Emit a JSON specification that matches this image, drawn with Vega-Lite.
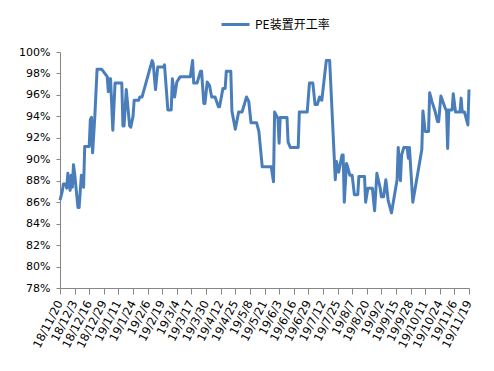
{
  "$schema": "https://vega.github.io/schema/vega-lite/v6.json",
  "width": 409,
  "height": 236,
  "autosize": {"type": "none"},
  "padding": {"left": 60, "top": 52, "right": 25, "bottom": 83},
  "background": "white",
  "config": {
    "view": {"stroke": null},
    "font": "DejaVu Sans",
    "axis": {"grid": false, "domainColor": "#868686", "tickColor": "#868686", "labelColor": "#000000", "labelFont": "DejaVu Sans", "labelFontSize": 11, "title": null}
  },
  "data": {
    "values": [
      {"date": "2018-11-20", "rate": 0.862, "series": "PE装置开工率"},
      {"date": "2018-11-22", "rate": 0.870, "series": "PE装置开工率"},
      {"date": "2018-11-23", "rate": 0.877, "series": "PE装置开工率"},
      {"date": "2018-11-25", "rate": 0.877, "series": "PE装置开工率"},
      {"date": "2018-11-26", "rate": 0.873, "series": "PE装置开工率"},
      {"date": "2018-11-27", "rate": 0.887, "series": "PE装置开工率"},
      {"date": "2018-11-29", "rate": 0.871, "series": "PE装置开工率"},
      {"date": "2018-11-30", "rate": 0.885, "series": "PE装置开工率"},
      {"date": "2018-12-01", "rate": 0.874, "series": "PE装置开工率"},
      {"date": "2018-12-02", "rate": 0.895, "series": "PE装置开工率"},
      {"date": "2018-12-03", "rate": 0.887, "series": "PE装置开工率"},
      {"date": "2018-12-06", "rate": 0.855, "series": "PE装置开工率"},
      {"date": "2018-12-07", "rate": 0.855, "series": "PE装置开工率"},
      {"date": "2018-12-09", "rate": 0.885, "series": "PE装置开工率"},
      {"date": "2018-12-11", "rate": 0.874, "series": "PE装置开工率"},
      {"date": "2018-12-12", "rate": 0.912, "series": "PE装置开工率"},
      {"date": "2018-12-16", "rate": 0.912, "series": "PE装置开工率"},
      {"date": "2018-12-17", "rate": 0.937, "series": "PE装置开工率"},
      {"date": "2018-12-18", "rate": 0.939, "series": "PE装置开工率"},
      {"date": "2018-12-19", "rate": 0.906, "series": "PE装置开工率"},
      {"date": "2018-12-21", "rate": 0.940, "series": "PE装置开工率"},
      {"date": "2018-12-23", "rate": 0.984, "series": "PE装置开工率"},
      {"date": "2018-12-27", "rate": 0.984, "series": "PE装置开工率"},
      {"date": "2019-01-01", "rate": 0.977, "series": "PE装置开工率"},
      {"date": "2019-01-02", "rate": 0.963, "series": "PE装置开工率"},
      {"date": "2019-01-03", "rate": 0.975, "series": "PE装置开工率"},
      {"date": "2019-01-04", "rate": 0.975, "series": "PE装置开工率"},
      {"date": "2019-01-06", "rate": 0.927, "series": "PE装置开工率"},
      {"date": "2019-01-08", "rate": 0.971, "series": "PE装置开工率"},
      {"date": "2019-01-14", "rate": 0.971, "series": "PE装置开工率"},
      {"date": "2019-01-15", "rate": 0.931, "series": "PE装置开工率"},
      {"date": "2019-01-16", "rate": 0.931, "series": "PE装置开工率"},
      {"date": "2019-01-18", "rate": 0.965, "series": "PE装置开工率"},
      {"date": "2019-01-21", "rate": 0.931, "series": "PE装置开工率"},
      {"date": "2019-01-22", "rate": 0.930, "series": "PE装置开工率"},
      {"date": "2019-01-24", "rate": 0.940, "series": "PE装置开工率"},
      {"date": "2019-01-25", "rate": 0.955, "series": "PE装置开工率"},
      {"date": "2019-01-29", "rate": 0.955, "series": "PE装置开工率"},
      {"date": "2019-01-30", "rate": 0.958, "series": "PE装置开工率"},
      {"date": "2019-02-01", "rate": 0.958, "series": "PE装置开工率"},
      {"date": "2019-02-10", "rate": 0.992, "series": "PE装置开工率"},
      {"date": "2019-02-11", "rate": 0.989, "series": "PE装置开工率"},
      {"date": "2019-02-13", "rate": 0.965, "series": "PE装置开工率"},
      {"date": "2019-02-15", "rate": 0.986, "series": "PE装置开工率"},
      {"date": "2019-02-20", "rate": 0.986, "series": "PE装置开工率"},
      {"date": "2019-02-21", "rate": 0.988, "series": "PE装置开工率"},
      {"date": "2019-02-24", "rate": 0.946, "series": "PE装置开工率"},
      {"date": "2019-02-27", "rate": 0.946, "series": "PE装置开工率"},
      {"date": "2019-02-28", "rate": 0.975, "series": "PE装置开工率"},
      {"date": "2019-03-02", "rate": 0.958, "series": "PE装置开工率"},
      {"date": "2019-03-04", "rate": 0.972, "series": "PE装置开工率"},
      {"date": "2019-03-07", "rate": 0.977, "series": "PE装置开工率"},
      {"date": "2019-03-16", "rate": 0.977, "series": "PE装置开工率"},
      {"date": "2019-03-18", "rate": 0.992, "series": "PE装置开工率"},
      {"date": "2019-03-19", "rate": 0.971, "series": "PE装置开工率"},
      {"date": "2019-03-22", "rate": 0.971, "series": "PE装置开工率"},
      {"date": "2019-03-25", "rate": 0.982, "series": "PE装置开工率"},
      {"date": "2019-03-26", "rate": 0.982, "series": "PE装置开工率"},
      {"date": "2019-03-28", "rate": 0.952, "series": "PE装置开工率"},
      {"date": "2019-03-29", "rate": 0.952, "series": "PE装置开工率"},
      {"date": "2019-03-31", "rate": 0.972, "series": "PE装置开工率"},
      {"date": "2019-04-02", "rate": 0.969, "series": "PE装置开工率"},
      {"date": "2019-04-04", "rate": 0.958, "series": "PE装置开工率"},
      {"date": "2019-04-07", "rate": 0.958, "series": "PE装置开工率"},
      {"date": "2019-04-10", "rate": 0.949, "series": "PE装置开工率"},
      {"date": "2019-04-11", "rate": 0.949, "series": "PE装置开工率"},
      {"date": "2019-04-14", "rate": 0.966, "series": "PE装置开工率"},
      {"date": "2019-04-16", "rate": 0.966, "series": "PE装置开工率"},
      {"date": "2019-04-17", "rate": 0.982, "series": "PE装置开工率"},
      {"date": "2019-04-21", "rate": 0.982, "series": "PE装置开工率"},
      {"date": "2019-04-22", "rate": 0.945, "series": "PE装置开工率"},
      {"date": "2019-04-25", "rate": 0.928, "series": "PE装置开工率"},
      {"date": "2019-04-28", "rate": 0.944, "series": "PE装置开工率"},
      {"date": "2019-05-01", "rate": 0.944, "series": "PE装置开工率"},
      {"date": "2019-05-05", "rate": 0.958, "series": "PE装置开工率"},
      {"date": "2019-05-07", "rate": 0.954, "series": "PE装置开工率"},
      {"date": "2019-05-09", "rate": 0.934, "series": "PE装置开工率"},
      {"date": "2019-05-14", "rate": 0.934, "series": "PE装置开工率"},
      {"date": "2019-05-16", "rate": 0.926, "series": "PE装置开工率"},
      {"date": "2019-05-19", "rate": 0.893, "series": "PE装置开工率"},
      {"date": "2019-05-27", "rate": 0.893, "series": "PE装置开工率"},
      {"date": "2019-05-29", "rate": 0.879, "series": "PE装置开工率"},
      {"date": "2019-05-30", "rate": 0.944, "series": "PE装置开工率"},
      {"date": "2019-06-02", "rate": 0.938, "series": "PE装置开工率"},
      {"date": "2019-06-03", "rate": 0.915, "series": "PE装置开工率"},
      {"date": "2019-06-04", "rate": 0.939, "series": "PE装置开工率"},
      {"date": "2019-06-10", "rate": 0.939, "series": "PE装置开工率"},
      {"date": "2019-06-11", "rate": 0.916, "series": "PE装置开工率"},
      {"date": "2019-06-13", "rate": 0.911, "series": "PE装置开工率"},
      {"date": "2019-06-20", "rate": 0.911, "series": "PE装置开工率"},
      {"date": "2019-06-21", "rate": 0.944, "series": "PE装置开工率"},
      {"date": "2019-06-28", "rate": 0.944, "series": "PE装置开工率"},
      {"date": "2019-06-30", "rate": 0.971, "series": "PE装置开工率"},
      {"date": "2019-07-03", "rate": 0.971, "series": "PE装置开工率"},
      {"date": "2019-07-05", "rate": 0.951, "series": "PE装置开工率"},
      {"date": "2019-07-07", "rate": 0.951, "series": "PE装置开工率"},
      {"date": "2019-07-09", "rate": 0.958, "series": "PE装置开工率"},
      {"date": "2019-07-11", "rate": 0.955, "series": "PE装置开工率"},
      {"date": "2019-07-15", "rate": 0.992, "series": "PE装置开工率"},
      {"date": "2019-07-18", "rate": 0.992, "series": "PE装置开工率"},
      {"date": "2019-07-23", "rate": 0.881, "series": "PE装置开工率"},
      {"date": "2019-07-24", "rate": 0.898, "series": "PE装置开工率"},
      {"date": "2019-07-26", "rate": 0.888, "series": "PE装置开工率"},
      {"date": "2019-07-29", "rate": 0.904, "series": "PE装置开工率"},
      {"date": "2019-07-30", "rate": 0.904, "series": "PE装置开工率"},
      {"date": "2019-07-31", "rate": 0.860, "series": "PE装置开工率"},
      {"date": "2019-08-02", "rate": 0.896, "series": "PE装置开工率"},
      {"date": "2019-08-03", "rate": 0.893, "series": "PE装置开工率"},
      {"date": "2019-08-05", "rate": 0.885, "series": "PE装置开工率"},
      {"date": "2019-08-07", "rate": 0.885, "series": "PE装置开工率"},
      {"date": "2019-08-09", "rate": 0.867, "series": "PE装置开工率"},
      {"date": "2019-08-12", "rate": 0.867, "series": "PE装置开工率"},
      {"date": "2019-08-13", "rate": 0.884, "series": "PE装置开工率"},
      {"date": "2019-08-18", "rate": 0.884, "series": "PE装置开工率"},
      {"date": "2019-08-19", "rate": 0.860, "series": "PE装置开工率"},
      {"date": "2019-08-21", "rate": 0.873, "series": "PE装置开工率"},
      {"date": "2019-08-25", "rate": 0.873, "series": "PE装置开工率"},
      {"date": "2019-08-27", "rate": 0.852, "series": "PE装置开工率"},
      {"date": "2019-08-29", "rate": 0.887, "series": "PE装置开工率"},
      {"date": "2019-09-01", "rate": 0.873, "series": "PE装置开工率"},
      {"date": "2019-09-02", "rate": 0.865, "series": "PE装置开工率"},
      {"date": "2019-09-04", "rate": 0.865, "series": "PE装置开工率"},
      {"date": "2019-09-06", "rate": 0.881, "series": "PE装置开工率"},
      {"date": "2019-09-08", "rate": 0.862, "series": "PE装置开工率"},
      {"date": "2019-09-11", "rate": 0.850, "series": "PE装置开工率"},
      {"date": "2019-09-16", "rate": 0.881, "series": "PE装置开工率"},
      {"date": "2019-09-17", "rate": 0.911, "series": "PE装置开工率"},
      {"date": "2019-09-19", "rate": 0.880, "series": "PE装置开工率"},
      {"date": "2019-09-20", "rate": 0.904, "series": "PE装置开工率"},
      {"date": "2019-09-22", "rate": 0.911, "series": "PE装置开工率"},
      {"date": "2019-09-25", "rate": 0.911, "series": "PE装置开工率"},
      {"date": "2019-09-26", "rate": 0.901, "series": "PE装置开工率"},
      {"date": "2019-09-27", "rate": 0.911, "series": "PE装置开工率"},
      {"date": "2019-09-30", "rate": 0.860, "series": "PE装置开工率"},
      {"date": "2019-10-08", "rate": 0.909, "series": "PE装置开工率"},
      {"date": "2019-10-09", "rate": 0.945, "series": "PE装置开工率"},
      {"date": "2019-10-11", "rate": 0.926, "series": "PE装置开工率"},
      {"date": "2019-10-14", "rate": 0.926, "series": "PE装置开工率"},
      {"date": "2019-10-15", "rate": 0.962, "series": "PE装置开工率"},
      {"date": "2019-10-17", "rate": 0.954, "series": "PE装置开工率"},
      {"date": "2019-10-20", "rate": 0.944, "series": "PE装置开工率"},
      {"date": "2019-10-22", "rate": 0.935, "series": "PE装置开工率"},
      {"date": "2019-10-23", "rate": 0.935, "series": "PE装置开工率"},
      {"date": "2019-10-25", "rate": 0.959, "series": "PE装置开工率"},
      {"date": "2019-10-29", "rate": 0.947, "series": "PE装置开工率"},
      {"date": "2019-10-30", "rate": 0.946, "series": "PE装置开工率"},
      {"date": "2019-10-31", "rate": 0.910, "series": "PE装置开工率"},
      {"date": "2019-11-01", "rate": 0.946, "series": "PE装置开工率"},
      {"date": "2019-11-04", "rate": 0.946, "series": "PE装置开工率"},
      {"date": "2019-11-05", "rate": 0.961, "series": "PE装置开工率"},
      {"date": "2019-11-07", "rate": 0.944, "series": "PE装置开工率"},
      {"date": "2019-11-11", "rate": 0.944, "series": "PE装置开工率"},
      {"date": "2019-11-12", "rate": 0.957, "series": "PE装置开工率"},
      {"date": "2019-11-13", "rate": 0.944, "series": "PE装置开工率"},
      {"date": "2019-11-15", "rate": 0.944, "series": "PE装置开工率"},
      {"date": "2019-11-18", "rate": 0.932, "series": "PE装置开工率"},
      {"date": "2019-11-19", "rate": 0.965, "series": "PE装置开工率"}
    ]
  },
  "mark": {"type": "line", "strokeWidth": 3, "strokeJoin": "round", "strokeCap": "butt"},
  "encoding": {
    "x": {
      "field": "date",
      "type": "temporal",
      "scale": {"type": "utc", "domain": [{"year": 2018, "month": 11, "date": 20, "utc": true}, {"year": 2019, "month": 11, "date": 19, "utc": true}], "nice": false},
      "axis": {
        "values": [
          {"year": 2018, "month": 11, "date": 20, "utc": true},
          {"year": 2018, "month": 12, "date": 3, "utc": true},
          {"year": 2018, "month": 12, "date": 16, "utc": true},
          {"year": 2018, "month": 12, "date": 29, "utc": true},
          {"year": 2019, "month": 1, "date": 11, "utc": true},
          {"year": 2019, "month": 1, "date": 24, "utc": true},
          {"year": 2019, "month": 2, "date": 6, "utc": true},
          {"year": 2019, "month": 2, "date": 19, "utc": true},
          {"year": 2019, "month": 3, "date": 4, "utc": true},
          {"year": 2019, "month": 3, "date": 17, "utc": true},
          {"year": 2019, "month": 3, "date": 30, "utc": true},
          {"year": 2019, "month": 4, "date": 12, "utc": true},
          {"year": 2019, "month": 4, "date": 25, "utc": true},
          {"year": 2019, "month": 5, "date": 8, "utc": true},
          {"year": 2019, "month": 5, "date": 21, "utc": true},
          {"year": 2019, "month": 6, "date": 3, "utc": true},
          {"year": 2019, "month": 6, "date": 16, "utc": true},
          {"year": 2019, "month": 6, "date": 29, "utc": true},
          {"year": 2019, "month": 7, "date": 12, "utc": true},
          {"year": 2019, "month": 7, "date": 25, "utc": true},
          {"year": 2019, "month": 8, "date": 7, "utc": true},
          {"year": 2019, "month": 8, "date": 20, "utc": true},
          {"year": 2019, "month": 9, "date": 2, "utc": true},
          {"year": 2019, "month": 9, "date": 15, "utc": true},
          {"year": 2019, "month": 9, "date": 28, "utc": true},
          {"year": 2019, "month": 10, "date": 11, "utc": true},
          {"year": 2019, "month": 10, "date": 24, "utc": true},
          {"year": 2019, "month": 11, "date": 6, "utc": true},
          {"year": 2019, "month": 11, "date": 19, "utc": true}
        ],
        "labelExpr": "utcFormat(datum.value, '%y/%-m/%-d')",
        "labelAngle": -63,
        "labelAlign": "right",
        "labelBaseline": "middle",
        "labelOverlap": false,
        "labelFlush": false,
        "labelBound": false,
        "labelFontSize": 11.5,
        "tickSize": 6,
        "labelPadding": 7
      }
    },
    "y": {
      "field": "rate",
      "type": "quantitative",
      "scale": {"domain": [0.78, 1.0], "nice": false, "zero": false},
      "axis": {
        "values": [0.78, 0.8, 0.82, 0.84, 0.86, 0.88, 0.9, 0.92, 0.94, 0.96, 0.98, 1.0],
        "format": ".0%",
        "tickSize": 4,
        "labelPadding": 6
      }
    },
    "color": {
      "field": "series",
      "type": "nominal",
      "scale": {"range": ["#4A7EBB"]},
      "legend": {
        "title": null,
        "orient": "none",
        "legendX": 160,
        "legendY": -43,
        "symbolType": "stroke",
        "symbolSize": 784,
        "symbolStrokeWidth": 3,
        "labelFont": "Noto Sans CJK SC",
        "labelFontSize": 12,
        "labelColor": "#000000",
        "labelOffset": 4,
        "padding": 0
      }
    }
  }
}
